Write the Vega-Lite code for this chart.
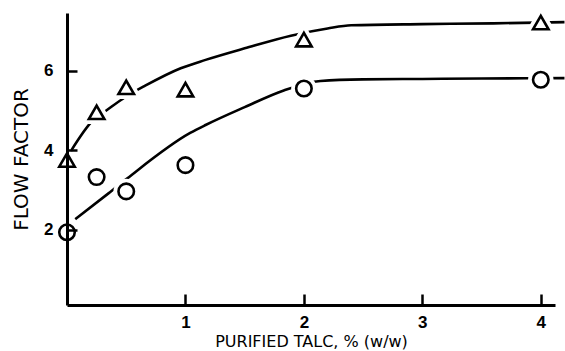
{
  "$schema": "https://vega.github.io/schema/vega-lite/v6.json",
  "autosize": "none",
  "width": 488,
  "height": 292,
  "padding": {"left": 67, "top": 13, "right": 10, "bottom": 46},
  "background": "white",
  "config": {"view": {"stroke": null}},
  "datasets": {
    "curves": [
      {"series": "A", "x": 0.03, "y": 3.96},
      {"series": "A", "x": 0.23, "y": 4.78},
      {"series": "A", "x": 0.32, "y": 4.97},
      {"series": "A", "x": 0.49, "y": 5.33},
      {"series": "A", "x": 0.66, "y": 5.62},
      {"series": "A", "x": 0.96, "y": 6.06},
      {"series": "A", "x": 1.17, "y": 6.27},
      {"series": "A", "x": 1.5, "y": 6.56},
      {"series": "A", "x": 1.89, "y": 6.88},
      {"series": "A", "x": 2.2, "y": 7.06},
      {"series": "A", "x": 2.4, "y": 7.14},
      {"series": "A", "x": 3.0, "y": 7.17},
      {"series": "A", "x": 3.6, "y": 7.19},
      {"series": "A", "x": 4.2, "y": 7.22},
      {"series": "B", "x": 0.07, "y": 2.26},
      {"series": "B", "x": 0.35, "y": 2.91},
      {"series": "B", "x": 0.51, "y": 3.29},
      {"series": "B", "x": 1.04, "y": 4.43},
      {"series": "B", "x": 1.17, "y": 4.63},
      {"series": "B", "x": 1.5, "y": 5.08},
      {"series": "B", "x": 1.83, "y": 5.5},
      {"series": "B", "x": 2.14, "y": 5.74},
      {"series": "B", "x": 2.5, "y": 5.78},
      {"series": "B", "x": 3.0, "y": 5.79},
      {"series": "B", "x": 3.5, "y": 5.8},
      {"series": "B", "x": 4.2, "y": 5.81}
    ],
    "points": [
      {"series": "A", "talc": 0, "flow": 3.75},
      {"series": "A", "talc": 0.25, "flow": 4.95},
      {"series": "A", "talc": 0.5, "flow": 5.58},
      {"series": "A", "talc": 1, "flow": 5.52},
      {"series": "A", "talc": 2, "flow": 6.78},
      {"series": "A", "talc": 4, "flow": 7.21},
      {"series": "B", "talc": 0, "flow": 1.93},
      {"series": "B", "talc": 0.25, "flow": 3.32},
      {"series": "B", "talc": 0.5, "flow": 2.96},
      {"series": "B", "talc": 1, "flow": 3.62},
      {"series": "B", "talc": 2, "flow": 5.55},
      {"series": "B", "talc": 4, "flow": 5.77}
    ]
  },
  "layer": [
    {
      "data": {"name": "curves"},
      "mark": {"type": "line", "interpolate": "monotone", "color": "black", "strokeWidth": 2.6, "clip": false},
      "encoding": {
        "x": {
          "field": "x", "type": "quantitative",
          "scale": {"domain": [0, 4.12], "nice": false, "zero": false},
          "axis": {
            "values": [1, 2, 3, 4],
            "format": "d",
            "grid": false,
            "domainColor": "black", "domainWidth": 3,
            "tickColor": "black", "tickWidth": 2.5, "tickSize": -11,
            "labelFont": "Liberation Sans", "labelFontWeight": "bold", "labelFontSize": 17, "labelColor": "black",
            "labelPadding": 20,
            "title": "PURIFIED TALC, % (w/w)",
            "titleFont": "DejaVu Sans", "titleFontWeight": "normal", "titleFontSize": 16, "titleColor": "black",
            "titlePadding": 3,
            "zindex": 1
          }
        },
        "y": {
          "field": "y", "type": "quantitative",
          "scale": {"domain": [0.1, 7.45], "nice": false, "zero": false},
          "axis": {
            "values": [2, 4, 6],
            "format": "d",
            "grid": false,
            "domainColor": "black", "domainWidth": 3,
            "tickColor": "black", "tickWidth": 2.5, "tickSize": -10,
            "labelFont": "Liberation Sans", "labelFontWeight": "bold", "labelFontSize": 17, "labelColor": "black",
            "labelPadding": 24,
            "title": "FLOW FACTOR",
            "titleFont": "DejaVu Sans", "titleFontWeight": "normal", "titleFontSize": 20, "titleColor": "black",
            "titlePadding": 12,
            "zindex": 1
          }
        },
        "detail": {"field": "series", "type": "nominal"}
      }
    },
    {
      "data": {"name": "points"},
      "mark": {"type": "point", "filled": true, "color": "white", "stroke": "white", "strokeWidth": 10, "opacity": 1, "size": 240},
      "encoding": {
        "x": {"field": "talc", "type": "quantitative"},
        "y": {"field": "flow", "type": "quantitative"},
        "shape": {"field": "series", "type": "nominal", "scale": {"domain": ["A", "B"], "range": ["triangle-up", "circle"]}, "legend": null}
      }
    },
    {
      "data": {"name": "points"},
      "mark": {"type": "point", "filled": false, "stroke": "black", "strokeWidth": 2.6, "opacity": 1, "size": 240},
      "encoding": {
        "x": {"field": "talc", "type": "quantitative"},
        "y": {"field": "flow", "type": "quantitative"},
        "shape": {"field": "series", "type": "nominal", "scale": {"domain": ["A", "B"], "range": ["triangle-up", "circle"]}, "legend": null}
      }
    }
  ]
}
